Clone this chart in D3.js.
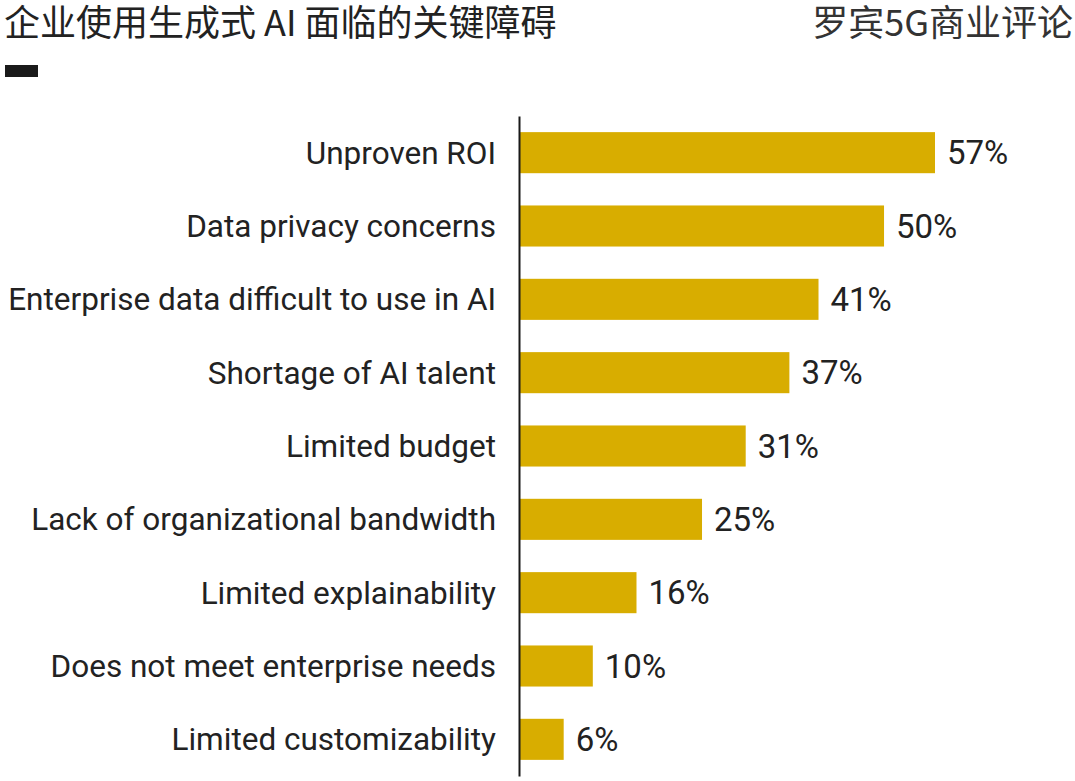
<!DOCTYPE html>
<html><head><meta charset="utf-8">
<script src="https://cdn.jsdelivr.net/npm/d3@7"></script>
<style>body{margin:0;background:#fff;} svg{display:block;}</style>
</head><body>
<script>
const categories = ["Unproven ROI","Data privacy concerns","Enterprise data difficult to use in AI","Shortage of AI talent","Limited budget","Lack of organizational bandwidth","Limited explainability","Does not meet enterprise needs","Limited customizability"];
const values = [57,50,41,37,31,25,16,10,6];
const title = "企业使用生成式 AI 面临的关键障碍";
const source = "罗宾5G商业评论";

const W=1075,H=781;
const svg=d3.select("body").append("svg").attr("width",W).attr("height",H);
const font="Roboto,'Noto Sans',sans-serif";
const cjk="'Noto Sans CJK SC',sans-serif";
svg.append("text").attr("x",4).attr("y",36).attr("font-family",cjk).attr("font-size",36).attr("fill","#222").text(title);
svg.append("text").attr("x",1073).attr("y",36).attr("text-anchor","end").attr("font-family",cjk).attr("font-size",36).attr("fill","#333").text(source);
svg.append("rect").attr("x",5).attr("y",65).attr("width",33).attr("height",12).attr("fill","#1a1a1a");

const x=d3.scaleLinear().domain([0,57]).range([520,935]);
const y=d3.scaleBand().domain(categories).range([116,776]).paddingInner(0.44).paddingOuter(0.22);

svg.selectAll("rect.bar").data(values).join("rect").attr("class","bar")
 .attr("x",x(0)).attr("y",(d,i)=>y(categories[i])).attr("width",d=>x(d)-x(0)).attr("height",y.bandwidth()).attr("fill","#d8ad00");

const yAxis=d3.axisLeft(y).tickSize(0).tickPadding(23);
const g=svg.append("g").attr("transform",`translate(${x(0)-1},0)`).call(yAxis);
g.select(".domain").attr("stroke","#1a1a1a").attr("stroke-width",2);
g.selectAll("text").attr("font-family",font).attr("font-size",31.5).attr("fill","#222").attr("dy","0.35em");

svg.selectAll("text.val").data(values).join("text").attr("class","val")
 .attr("x",d=>x(d)+12).attr("y",(d,i)=>y(categories[i])+y.bandwidth()/2).attr("dy","0.35em")
 .attr("font-family",font).attr("font-size",33).attr("fill","#222").text(d=>d+"%");
</script>
</body></html>
